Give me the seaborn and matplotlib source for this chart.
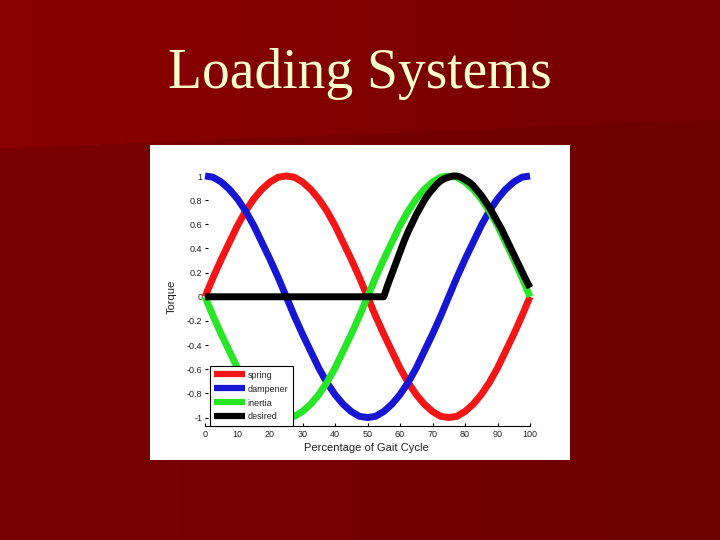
import numpy as np
import pandas as pd
import matplotlib
matplotlib.use("Agg")
import matplotlib.pyplot as plt
from matplotlib.lines import Line2D
import seaborn as sns

# ---------------- data ----------------
pct = [0, 2.5, 5, 7.5, 10, 12.5, 15, 17.5, 20, 22.5, 25,
       27.5, 30, 32.5, 35, 37.5, 40, 42.5, 45, 47.5, 50,
       52.5, 55, 57.5, 60, 62.5, 65, 67.5, 70, 72.5, 75,
       77.5, 80, 82.5, 85, 87.5, 90, 92.5, 95, 97.5, 100]
spring = [0.0, 0.16, 0.31, 0.45, 0.59, 0.71, 0.81, 0.89, 0.95, 0.99, 1.0,
          0.99, 0.95, 0.89, 0.81, 0.71, 0.59, 0.45, 0.31, 0.16, 0.0,
          -0.16, -0.31, -0.45, -0.59, -0.71, -0.81, -0.89, -0.95, -0.99, -1.0,
          -0.99, -0.95, -0.89, -0.81, -0.71, -0.59, -0.45, -0.31, -0.16, 0.0]
dampener = [1.0, 0.99, 0.95, 0.89, 0.81, 0.71, 0.59, 0.45, 0.31, 0.16, 0.0,
            -0.16, -0.31, -0.45, -0.59, -0.71, -0.81, -0.89, -0.95, -0.99, -1.0,
            -0.99, -0.95, -0.89, -0.81, -0.71, -0.59, -0.45, -0.31, -0.16, 0.0,
            0.16, 0.31, 0.45, 0.59, 0.71, 0.81, 0.89, 0.95, 0.99, 1.0]
inertia = [0.0, -0.16, -0.31, -0.45, -0.59, -0.71, -0.81, -0.89, -0.95, -0.99, -1.0,
           -0.99, -0.95, -0.89, -0.81, -0.71, -0.59, -0.45, -0.31, -0.16, 0.0,
           0.16, 0.31, 0.45, 0.59, 0.71, 0.81, 0.89, 0.95, 0.99, 1.0,
           0.99, 0.95, 0.89, 0.81, 0.71, 0.59, 0.45, 0.31, 0.16, 0.0]
desired_pct = [0, 55, 56.25, 57.5, 58.75, 60, 61.25, 62.5, 63.75, 65, 66.25,
               67.5, 68.75, 70, 71.25, 72.5, 73.75, 75, 76.25, 77.5, 78.75,
               80, 81.25, 82.5, 83.75, 85, 86.25, 87.5, 88.75, 90, 91.25,
               92.5, 93.75, 95, 96.25, 97.5, 98.75, 100]
desired = [0.0, 0.0, 0.10, 0.19, 0.28, 0.37, 0.46, 0.54, 0.61, 0.68, 0.74,
           0.80, 0.85, 0.89, 0.93, 0.96, 0.98, 0.99, 1.0, 1.0, 0.99,
           0.97, 0.95, 0.92, 0.88, 0.84, 0.79, 0.74, 0.68, 0.62, 0.56,
           0.49, 0.42, 0.35, 0.28, 0.21, 0.14, 0.075]

series_names = ["spring", "dampener", "inertia", "desired"]
series_colors = ["#f41616", "#1616d4", "#26e626", "#000000"]
title_text = "Loading Systems"
x_label = "Percentage of Gait Cycle"
y_label = "Torque"
x_ticks = [0, 10, 20, 30, 40, 50, 60, 70, 80, 90, 100]
y_ticks = [-1, -0.8, -0.6, -0.4, -0.2, 0, 0.2, 0.4, 0.6, 0.8, 1]
y_tick_labels = ["-1", "-0.8", "-0.6", "-0.4", "-0.2", "0", "0.2", "0.4", "0.6", "0.8", "1"]

# ---------------- style ----------------
sns.set_theme(style="white")
plt.rcParams["font.family"] = ["Liberation Sans", "DejaVu Sans"]

W, H = 720, 540
fig = plt.figure(figsize=(7.2, 5.4), dpi=100)

# slide background
bg = fig.add_axes([0, 0, 1, 1])
bg.set_axis_off()
gx, gy = np.meshgrid(np.arange(W), np.arange(H))
upper = gy < (148 - 0.04 * gx)
red = np.where(upper, 140 - 24 * gx / W, 122 - 12 * gx / W) / 255.0
img = np.zeros((H, W, 3))
img[..., 0] = red
bg.imshow(img, extent=(0, W, H, 0), aspect="auto", interpolation="bilinear")
bg.set_xlim(0, W)
bg.set_ylim(H, 0)

fig.text(0.5, 1 - 88 / H, title_text, ha="center", va="baseline",
         fontsize=40, color="#ffffcc", family=["Liberation Serif", "DejaVu Serif"])

# white picture panel
panel = fig.add_axes([150 / W, 1 - 460 / H, 420 / W, 315 / H])
panel.set_facecolor("white")
panel.set_xticks([])
panel.set_yticks([])
for s in panel.spines.values():
    s.set_visible(False)

# ---------------- chart ----------------
ax = fig.add_axes([205 / W, 1 - 426 / H, 325 / W, 250 / H])
ax.set_facecolor("none")

frames = [
    pd.DataFrame({"pct": pct, "torque": spring, "series": "spring"}),
    pd.DataFrame({"pct": pct, "torque": dampener, "series": "dampener"}),
    pd.DataFrame({"pct": pct, "torque": inertia, "series": "inertia"}),
    pd.DataFrame({"pct": desired_pct, "torque": desired, "series": "desired"}),
]
df = pd.concat(frames, ignore_index=True)
palette = dict(zip(series_names, series_colors))

sns.lineplot(data=df, x="pct", y="torque", hue="series", hue_order=series_names,
             palette=palette, estimator=None, sort=False, linewidth=5,
             legend=False, ax=ax)
for ln in ax.lines:
    ln.set_clip_on(False)
    ln.set_solid_joinstyle("round")
    ln.set_solid_capstyle("butt")

ax.set_xlim(0, 100)
ax.set_ylim(-1.07, 1.0)
ax.set_xticks(x_ticks)
ax.set_xticklabels([str(t) for t in x_ticks])
ax.set_yticks(y_ticks)
ax.set_yticklabels(y_tick_labels)
for s in ["top", "right", "left"]:
    ax.spines[s].set_visible(False)
ax.spines["bottom"].set_color("black")
ax.spines["bottom"].set_linewidth(0.8)
ax.tick_params(axis="both", which="both", direction="in", length=2.5, width=0.8,
               color="black", labelsize=6.5, labelcolor="#222222", pad=2)
ax.tick_params(axis="x", bottom=True, pad=3)
ax.tick_params(axis="y", left=True, pad=2)

ax.set_xlabel(x_label, fontsize=8, color="#222222")
ax.set_ylabel(y_label, fontsize=8, color="#222222")
ax.xaxis.set_label_coords(0.498, -0.068)
ax.yaxis.set_label_coords(-0.086, 0.516)

handles = []
for c in series_colors:
    h = Line2D([0], [0], color=c, lw=4.5)
    h.set_solid_capstyle("butt")
    handles.append(h)
leg = ax.legend(handles, series_names, loc="lower left", bbox_to_anchor=(0.015, 0.0),
                borderaxespad=0, frameon=True, fancybox=False, framealpha=1,
                edgecolor="black", fontsize=6.5, handlelength=3.4, handletextpad=0.3,
                labelspacing=0.55, borderpad=0.5)
leg.get_frame().set_linewidth(0.8)
for t in leg.get_texts():
    t.set_color("#222222")

fig.savefig("out.png", dpi=100)
